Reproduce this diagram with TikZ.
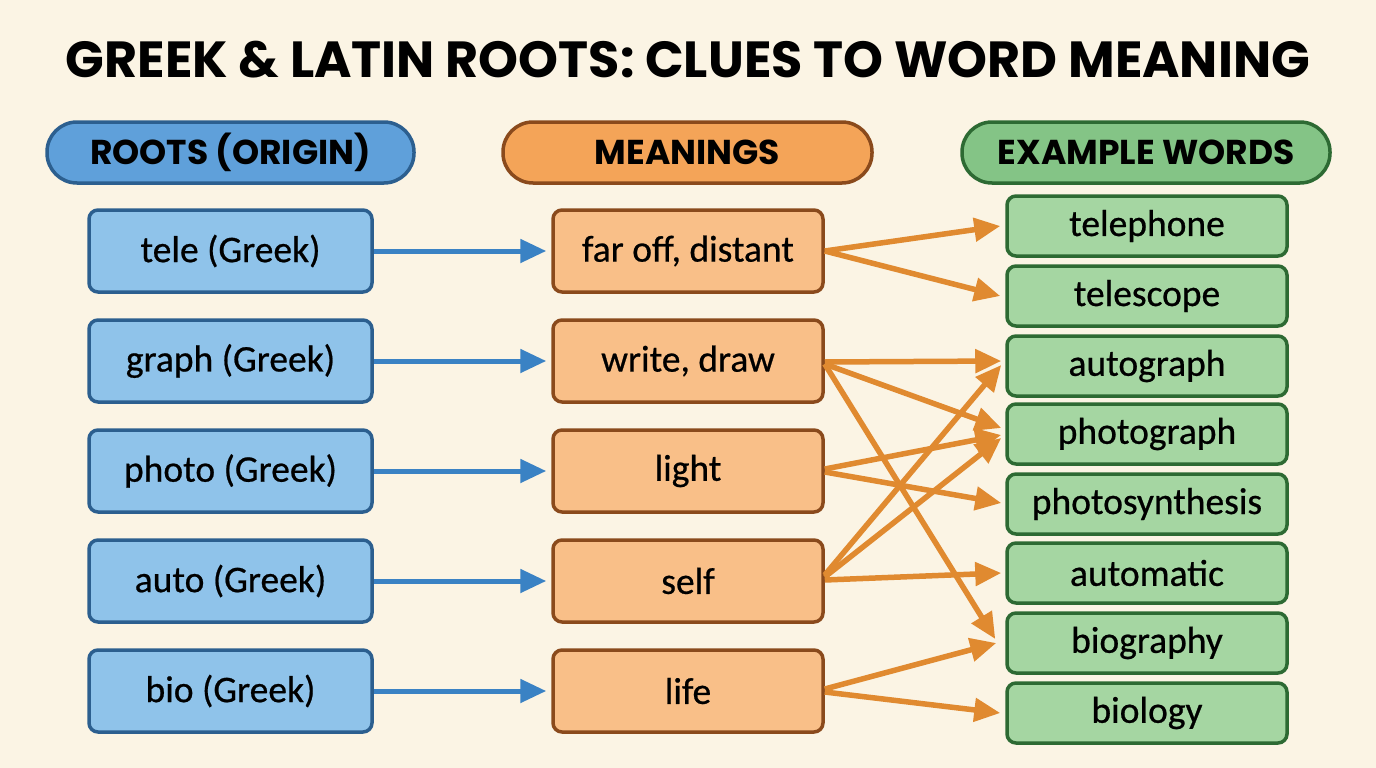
\documentclass[tikz,border=0pt]{standalone}
\usepackage{fontspec}
\setmainfont{Carlito}
\newfontfamily\bodyfont{Carlito}[FakeBold=0.6]
\newfontfamily\headfont{Poppins}
\usetikzlibrary{arrows.meta,calc}
\definecolor{bgc}{HTML}{FBF4E4}
\definecolor{bluehead}{HTML}{5FA0DA}
\definecolor{bluebox}{HTML}{8FC3EA}
\definecolor{blueline}{HTML}{2C5F8F}
\definecolor{bluearrow}{HTML}{3A82C4}
\definecolor{orhead}{HTML}{F4A458}
\definecolor{orbox}{HTML}{F9BF88}
\definecolor{orline}{HTML}{8A4A1C}
\definecolor{orarrow}{HTML}{E08A30}
\definecolor{grhead}{HTML}{84C486}
\definecolor{grbox}{HTML}{A5D6A2}
\definecolor{grline}{HTML}{2D6A33}
\begin{document}
\begin{tikzpicture}[x=1pt,y=-1pt,
  hdr/.style={rounded corners=30pt,line width=3.5pt,minimum height=61pt,inner sep=0pt,
    font=\headfont\bfseries\fontsize{34.5}{40}\selectfont,text=black},
  rootbox/.style={draw=blueline,fill=bluebox,rounded corners=9pt,line width=3.5pt,
    minimum width=283pt,minimum height=82pt,inner sep=0pt,font=\bodyfont\fontsize{37.5}{44}\selectfont},
  meanbox/.style={draw=orline,fill=orbox,rounded corners=9pt,line width=3.5pt,
    minimum width=270pt,minimum height=82pt,inner sep=0pt,font=\bodyfont\fontsize{37.5}{44}\selectfont},
  exbox/.style={draw=grline,fill=grbox,rounded corners=9pt,line width=3.5pt,
    minimum width=280pt,minimum height=60pt,inner sep=0pt,font=\bodyfont\fontsize{37.5}{44}\selectfont},
  barrow/.style={draw=bluearrow,line width=5pt,-{Triangle[length=26pt,width=23pt]},shorten >=5pt},
  oarrow/.style={draw=orarrow,line width=5.5pt,-{Triangle[length=26pt,width=23pt]}}
]
\fill[bgc] (0,0) rectangle (1376,768);
\useasboundingbox (0,0) rectangle (1376,768);

\node[font=\headfont\bfseries\fontsize{50.8}{56}\selectfont] (title) at (688,60) {GREEK \& LATIN ROOTS: CLUES TO WORD MEANING};

\node[hdr,draw=blueline,fill=bluehead,minimum width=367pt] (h1) at (230.5,152.5) {ROOTS (ORIGIN)};
\node[hdr,draw=orline,fill=orhead,minimum width=369pt] (h2) at (687.5,152.5) {MEANINGS};
\node[hdr,draw=grline,fill=grhead,minimum width=368pt] (h3) at (1146,152.5) {EXAMPLE WORDS};

\node[rootbox] (r1) at (230.5,251) {tele (Greek)};
\node[rootbox] (r2) at (230.5,361) {graph (Greek)};
\node[rootbox] (r3) at (230.5,471) {photo (Greek)};
\node[rootbox] (r4) at (230.5,581) {auto (Greek)};
\node[rootbox] (r5) at (230.5,691) {bio (Greek)};

\node[meanbox] (m1) at (688,251) {far off, distant};
\node[meanbox] (m2) at (688,361) {write, draw};
\node[meanbox] (m3) at (688,471) {light};
\node[meanbox] (m4) at (688,581) {self};
\node[meanbox] (m5) at (688,691) {life};

\node[exbox] (e1) at (1147,226) {telephone};
\node[exbox] (e2) at (1147,296) {telescope};
\node[exbox] (e3) at (1147,366) {autograph};
\node[exbox] (e4) at (1147,434) {photograph};
\node[exbox] (e5) at (1147,504) {photosynthesis};
\node[exbox] (e6) at (1147,573) {automatic};
\node[exbox] (e7) at (1147,643) {biography};
\node[exbox] (e8) at (1147,713) {biology};

\foreach \i in {1,...,5} \draw[barrow] (r\i.east) -- (m\i.west);

% far off
\draw[oarrow] (m1.east) -- ($(e1.west)+(-5,0)$);
\draw[oarrow] (m1.east) -- ($(e2.west)+(-5,0)$);
% write, draw
\draw[oarrow] ($(m2.east)+(0,1)$) -- ($(e3.west)+(-4,-5)$);
\draw[oarrow] ($(m2.east)+(0,3)$) -- ($(e4.west)+(-4,-6)$);
\draw[oarrow] ($(m2.east)+(0,3)$) -- ($(e7.west)+(-10,-4)$);
% light
\draw[oarrow] ($(m3.east)+(0,-2)$) -- ($(e4.west)+(-4,1)$);
\draw[oarrow] ($(m3.east)+(0,1)$) -- ($(e5.west)+(-4,-1)$);
% self
\draw[oarrow] ($(m4.east)+(0,-6)$) -- ($(e3.west)+(-4,-1)$);
\draw[oarrow] ($(m4.east)+(0,-4)$) -- ($(e4.west)+(-4,4)$);
\draw[oarrow] ($(m4.east)+(0,-1)$) -- ($(e6.west)+(-4,0)$);
% life
\draw[oarrow] ($(m5.east)+(0,-2)$) -- ($(e7.west)+(-9,0)$);
\draw[oarrow] ($(m5.east)+(0,1)$) -- ($(e8.west)+(-5,0)$);
\end{tikzpicture}
\end{document}
